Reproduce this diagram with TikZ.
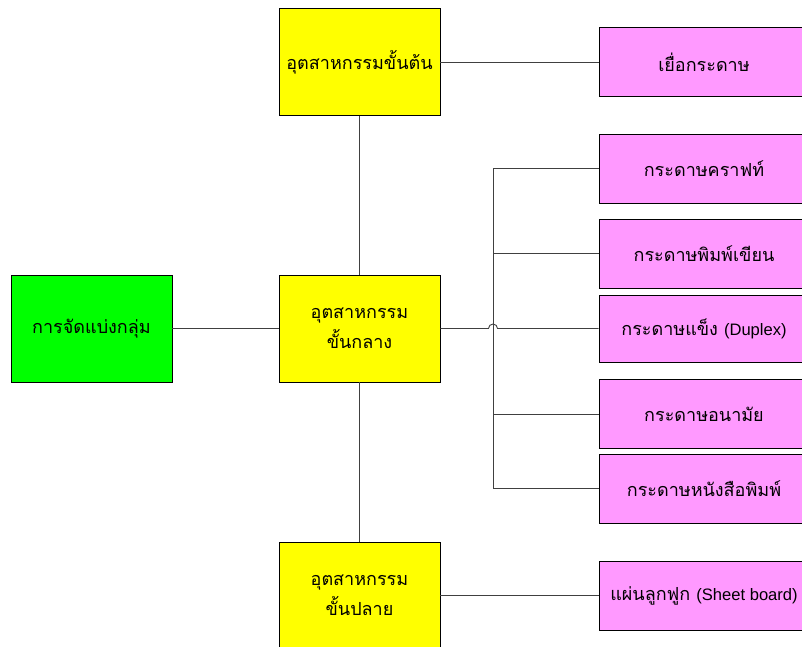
\documentclass[tikz,border=0pt]{standalone}
\usepackage{fontspec}
\newfontfamily\thaifont[Script=Thai]{Loma}
\newfontfamily\latinfont[Scale=0.92]{Liberation Sans}
\usetikzlibrary{positioning}
\definecolor{boxgreen}{HTML}{00FF00}
\definecolor{boxyellow}{HTML}{FFFF00}
\definecolor{boxpink}{HTML}{FF99FF}
\definecolor{wire}{HTML}{404040}

\begin{document}
\begin{tikzpicture}[x=1pt, y=1pt,
  box/.style={draw=black, line width=0.9pt, inner sep=0pt, align=center,
              font=\thaifont\fontsize{18}{30}\selectfont},
  group node/.style={box, fill=boxgreen, minimum width=161pt, minimum height=107pt},
  level node/.style={box, fill=boxyellow, minimum width=161pt, minimum height=107pt},
  paper node/.style={box, fill=boxpink, minimum width=210pt, minimum height=69pt},
  link/.style={draw=wire, line width=0.9pt}]

\path[use as bounding box, clip] (0,0) rectangle (802,646);

\node[group node](grp) at (91.5,317.5) {การจัดแบ่งกลุ่ม};

\node[level node](up) at (359.5,584) {อุตสาหกรรมขั้นต้น};
\node[level node](mid) at (359.5,317.5) {อุตสาหกรรม\\ขั้นกลาง};
\node[level node](down) at (359.5,50.5) {อุตสาหกรรม\\ขั้นปลาย};

\node[paper node](pulp) at (704,584) {เยื่อกระดาษ};
\node[paper node](kraft) at (704,477.5) {กระดาษคราฟท์};
\node[paper node](write) at (704,392.5) {กระดาษพิมพ์เขียน};
\node[paper node, minimum height=67pt](duplex) at (704,317.5) {กระดาษแข็ง {\latinfont (Duplex)}};
\node[paper node](tissue) at (704,232) {กระดาษอนามัย};
\node[paper node](news) at (704,157.5) {กระดาษหนังสือพิมพ์};
\node[paper node](sheet) at (704,50.5) {แผ่นลูกฟูก {\latinfont (Sheet board)}};

\coordinate (bus) at (493,0);
\coordinate (hop) at (488.5,317.5);

\draw[link] (grp) -- (mid);
\draw[link] (up) -- (mid);
\draw[link] (mid) -- (down);
\draw[link] (up) -- (pulp);
\draw[link] (down) -- (sheet);

\draw[link] (kraft.west) -- (kraft.west -| bus) -- (news.west -| bus) -- (news.west);
\draw[link] (write.west -| bus) -- (write.west);
\draw[link] (tissue.west -| bus) -- (tissue.west);
\draw[link] (mid.east) -- (hop) arc[start angle=180, end angle=0, radius=4.5pt] -- (duplex.west);

\end{tikzpicture}
\end{document}
